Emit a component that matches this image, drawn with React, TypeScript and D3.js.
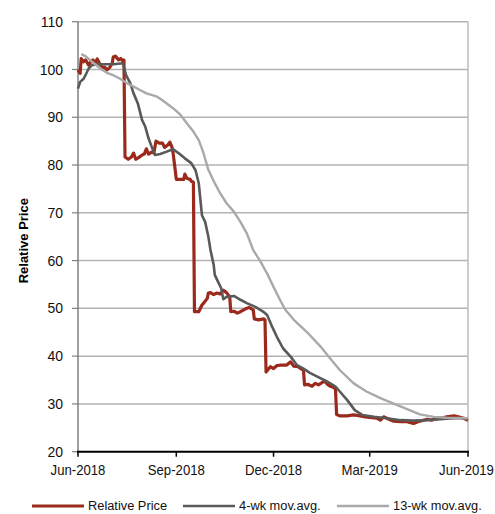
import React from "react";
import * as d3 from "d3";

// days after 1 Jun 2018 and values
const priceDays = [0, 2, 3, 5, 7, 10, 12, 14, 16, 18, 21, 24, 25, 27, 30, 32, 33, 35, 38, 40, 42, 43, 44, 47, 50, 52, 54, 57, 60, 62, 64, 66, 69, 71, 73, 76, 79, 81, 84, 86, 88, 89, 91, 92, 96, 99, 100, 102, 105, 106, 108, 109, 113, 116, 118, 121, 122, 124, 127, 130, 133, 136, 139, 142, 143, 146, 149, 152, 156, 160, 164, 165, 169, 174, 175, 176, 180, 183, 186, 189, 195, 199, 202, 206, 209, 211, 212, 215, 219, 222, 225, 228, 231, 233, 236, 239, 241, 242, 245, 252, 258, 264, 269, 275, 280, 283, 286, 291, 295, 302, 308, 314, 320, 327, 331, 336, 342, 345, 352, 356, 361, 365];
const priceValues = [99.9, 99.2, 102.3, 101.6, 102, 100.9, 101.6, 102, 101.3, 102.2, 100.9, 100.3, 100.5, 99.9, 100.5, 101.3, 102.6, 102.8, 102, 102.3, 101.7, 102, 81.7, 81.2, 81.7, 82.5, 81.2, 81.6, 82.1, 82.3, 83.4, 82.3, 82.7, 82.5, 85, 84.6, 84.6, 83.7, 84.2, 84.8, 83.7, 82.5, 78.9, 77, 77, 77, 78.1, 77.2, 77, 76.6, 76.4, 49.3, 49.3, 50.7, 51.2, 52.1, 53.2, 53.3, 52.9, 53.2, 53, 53.8, 53.3, 52.4, 49.3, 49.4, 49, 49.3, 49.8, 50.2, 49.7, 47.8, 47.6, 47.8, 47.6, 36.7, 37.8, 37.4, 38, 38.1, 38.1, 38.8, 37.9, 37.8, 37.3, 37.1, 34, 34.1, 33.7, 34.3, 34, 34.4, 34.8, 34.2, 33.7, 33.5, 33.1, 27.8, 27.5, 27.5, 27.7, 27.5, 27.3, 27.1, 27, 26.6, 27.3, 26.8, 26.4, 26.3, 26.3, 25.9, 26.4, 26.8, 26.6, 27.1, 27.1, 27.3, 27.5, 27.3, 27, 26.6];

const wk4Days = [0, 2, 5, 7, 10, 13, 18, 24, 33, 42, 45, 49, 52, 56, 60, 63, 66, 69, 72, 77, 83, 89, 94, 100, 106, 110, 113, 116, 119, 122, 124, 127, 128, 131, 134, 136, 139, 146, 152, 158, 166, 174, 177, 181, 186, 192, 199, 205, 211, 217, 224, 233, 241, 245, 252, 259, 266, 277, 289, 302, 314, 327, 339, 352, 365];
const wk4Values = [96, 97.4, 98, 98.8, 100.2, 100.9, 101.1, 101.1, 101.1, 101.3, 98.8, 97.1, 95, 92.9, 89.4, 88, 85.6, 83.8, 82.1, 82.3, 82.8, 83.3, 82.5, 81.4, 80.4, 78.9, 76.2, 69.5, 68.1, 65, 62.2, 59.1, 57, 55.6, 54.2, 51.9, 52.4, 52.6, 51.8, 51.1, 50.3, 49.2, 48.6, 46.5, 44.1, 41.6, 39.9, 38.1, 37.4, 36.5, 35.7, 34.7, 33.6, 32.6, 30.8, 28.7, 27.7, 27.3, 27, 26.6, 26.5, 26.6, 26.8, 27, 27];

const wk13Days = [3, 7, 11, 16, 21, 27, 33, 39, 46, 52, 58, 64, 74, 78, 83, 89, 96, 102, 108, 113, 117, 122, 128, 133, 139, 146, 152, 158, 164, 170, 177, 183, 189, 194, 202, 214, 227, 236, 245, 258, 270, 283, 295, 308, 320, 333, 345, 365];
const wk13Values = [103.2, 102.8, 102, 101.1, 100.2, 99.3, 98.8, 98.1, 97.1, 96.4, 95.7, 95, 94.3, 93.7, 92.9, 91.9, 90.5, 88.7, 87, 85.2, 82.8, 79, 76.2, 74.1, 72, 70.2, 68.1, 65.7, 62.2, 60.1, 57.3, 54.5, 51.8, 49.7, 47.6, 45.1, 42, 39.5, 37.1, 34.3, 32.6, 31.2, 30.1, 28.9, 27.8, 27.3, 27.1, 27];

const yTicks = [20, 30, 40, 50, 60, 70, 80, 90, 100, 110];
const xTickDates = [new Date(2018, 5, 1), new Date(2018, 8, 1), new Date(2018, 11, 1), new Date(2019, 2, 1), new Date(2019, 5, 1)];

const seriesNames = ["Relative Price", "4-wk mov.avg.", "13-wk mov.avg."];
const seriesColors = ["#9b2a1c", "#595959", "#a9a9a9"];

const W = 495;
const H = 514;
const left = 78;
const right = 468;
const top = 21.7;
const bottom = 451.7;
const font = "'Liberation Sans', Arial, sans-serif";

const dayToDate = (d: number) => new Date(2018, 5, 1 + d);

const App: React.FC = () => {
  const x = d3.scaleTime().domain([xTickDates[0], xTickDates[4]]).range([left, right]);
  const y = d3.scaleLinear().domain([20, 110]).range([bottom, top]);
  const fmt = d3.timeFormat("%b-%Y");

  const line = d3
    .line<[number, number]>()
    .x((d) => x(dayToDate(d[0])))
    .y((d) => y(d[1]));

  const series = [
    priceDays.map((d, i) => [d, priceValues[i]] as [number, number]),
    wk4Days.map((d, i) => [d, wk4Values[i]] as [number, number]),
    wk13Days.map((d, i) => [d, wk13Values[i]] as [number, number]),
  ];
  const widths = [3.2, 2.6, 2.4];

  // legend layout
  const legendX = [32, 183, 337];

  return (
    <div style={{ position: "absolute", left: 0, top: 0 }}>
      <svg width={W} height={H} style={{ display: "block", background: "#fff" }}>
        {/* grid */}
        {yTicks.slice(1).map((t) => (
          <line key={t} x1={left} x2={right} y1={y(t)} y2={y(t)} stroke="#b3b3b3" strokeWidth={1.5} />
        ))}
        <line x1={right} x2={right} y1={top} y2={bottom} stroke="#bdbdbd" strokeWidth={1.5} />

        {/* y axis */}
        <line x1={left} x2={left} y1={top} y2={bottom} stroke="#7f7f7f" strokeWidth={1.5} />
        {yTicks.map((t) => (
          <g key={t}>
            <line x1={left - 6} x2={left} y1={y(t)} y2={y(t)} stroke="#7f7f7f" strokeWidth={1.2} />
            <text x={63} y={y(t)} dy="0.36em" textAnchor="end" fontFamily={font} fontSize={14} fill="#111">
              {t}
            </text>
          </g>
        ))}
        <text
          transform={`translate(23,${(top + bottom) / 2 + 4}) rotate(-90)`}
          textAnchor="middle"
          dy="0.35em"
          fontFamily={font}
          fontWeight="bold"
          fontSize={13}
          fill="#000"
        >
          Relative Price
        </text>

        {/* lines */}
        {series.map((s, i) => (
          <path
            key={i}
            d={line(s) ?? ""}
            fill="none"
            stroke={seriesColors[i]}
            strokeWidth={widths[i]}
            strokeLinejoin="round"
          />
        ))}

        {/* x axis */}
        <line x1={left - 1} x2={right + 1} y1={bottom} y2={bottom} stroke="#000" strokeWidth={2} />
        {xTickDates.map((d, i) => (
          <g key={i}>
            <line x1={x(d)} x2={x(d)} y1={bottom} y2={bottom + 5} stroke="#000" strokeWidth={1.5} />
            <text
              transform={`translate(${i === 4 ? x(d) - 1.5 : x(d)},475) scale(0.94,1)`}
              textAnchor="middle"
              fontFamily={font}
              fontSize={14}
              fill="#111"
            >
              {fmt(d)}
            </text>
          </g>
        ))}

        {/* legend */}
        {seriesNames.map((n, i) => (
          <g key={n}>
            <line x1={legendX[i]} x2={legendX[i] + 52} y1={506} y2={506} stroke={seriesColors[i]} strokeWidth={widths[i]} />
            <text
              transform={`translate(${legendX[i] + 56},510) scale(0.95,1)`}
              fontFamily={font}
              fontSize={13.5}
              fill="#111"
            >
              {n}
            </text>
          </g>
        ))}
      </svg>
    </div>
  );
};

export default App;
